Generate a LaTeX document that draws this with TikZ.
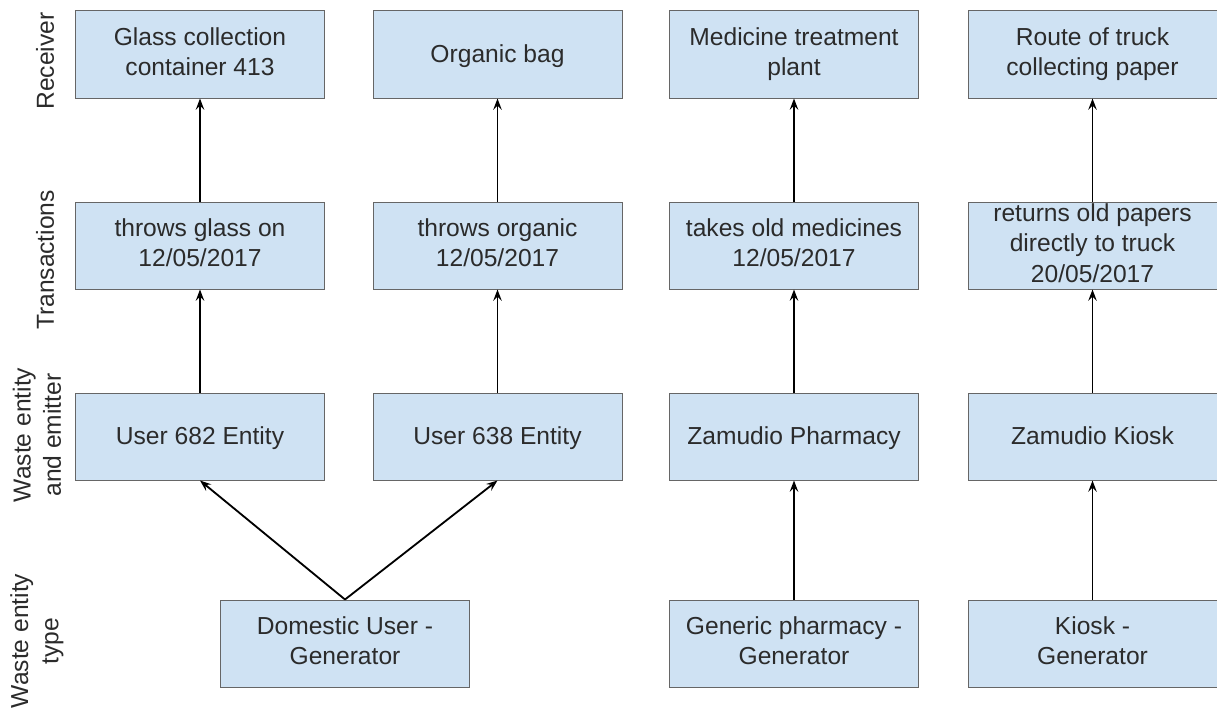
\documentclass[tikz,border=0pt]{standalone}
\usepackage{fontspec}
\setmainfont{Liberation Sans}
\usetikzlibrary{arrows.meta}
\usetikzlibrary{positioning}
\definecolor{boxblue}{HTML}{CFE2F3}
\definecolor{boxline}{HTML}{666666}
\definecolor{textgray}{HTML}{2B2B2B}
\newcommand{\linestrut}{\rule[-0.21em]{0pt}{1.11em}}
\tikzset{
  wastebox/.style={rectangle,draw=boxline,line width=0.7pt,fill=boxblue,text=textgray,minimum width=6.225cm,minimum height=2.175cm,inner sep=0pt,align=center,font=\fontsize{17.5pt}{21.5pt}\selectfont,execute at begin node={\linestrut},execute at end node={\linestrut}},
  rowlabel/.style={rotate=90,text=textgray,align=center,inner sep=0pt,font=\fontsize{17.5pt}{21.5pt}\selectfont},
  flow/.style={draw=black,line width=1.3pt,-{Stealth[length=8pt,width=6pt,inset=3pt]}}
}
\begin{document}
\begin{tikzpicture}
\useasboundingbox (0,0) rectangle (30.425,17.75);

\node[rowlabel] (lrecv) at (1.125,16.225) {Receiver};
\node[rowlabel] (ltrans) at (1.125,11.25) {Transactions};
\node[rowlabel] (lemit) at (0.925,6.875) {Waste entity\\and emitter};
\node[rowlabel] (ltype) at (0.925,1.725) {Waste entity\\type};

\node[wastebox] (glass) at (5.0,16.3875) {Glass collection\\container 413};
\node[wastebox] (organic) at (12.4375,16.3875) {Organic bag};
\node[wastebox] (medplant) at (19.85,16.3875) {Medicine treatment\\plant};
\node[wastebox] (route) at (27.3125,16.3875) {Route of truck\\collecting paper};

\node[wastebox] (tglass) at (5.0,11.6125) {throws glass on\\12/05/2017};
\node[wastebox] (torganic) at (12.4375,11.6125) {throws organic\\12/05/2017};
\node[wastebox] (tmed) at (19.85,11.6125) {takes old medicines\\12/05/2017};
\node[wastebox] (tpaper) at (27.3125,11.6125) {returns old papers\\directly to truck\\20/05/2017};

\node[wastebox] (user682) at (5.0,6.8375) {User 682 Entity};
\node[wastebox] (user638) at (12.4375,6.8375) {User 638 Entity};
\node[wastebox] (pharmacy) at (19.85,6.8375) {Zamudio Pharmacy};
\node[wastebox] (kiosk) at (27.3125,6.8375) {Zamudio Kiosk};

\node[wastebox] (domestic) at (8.625,1.6625) {Domestic User -\\Generator};
\node[wastebox] (genpharm) at (19.85,1.6625) {Generic pharmacy -\\Generator};
\node[wastebox] (genkiosk) at (27.3125,1.6625) {Kiosk -\\Generator};

\draw[flow] (tglass) -- (glass);
\draw[flow] (torganic) -- (organic);
\draw[flow] (tmed) -- (medplant);
\draw[flow] (tpaper) -- (route);
\draw[flow] (user682) -- (tglass);
\draw[flow] (user638) -- (torganic);
\draw[flow] (pharmacy) -- (tmed);
\draw[flow] (kiosk) -- (tpaper);
\draw[flow] (domestic.north) -- (user682.south);
\draw[flow] (domestic.north) -- (user638.south);
\draw[flow] (genpharm) -- (pharmacy);
\draw[flow] (genkiosk) -- (kiosk);

\end{tikzpicture}
\end{document}
